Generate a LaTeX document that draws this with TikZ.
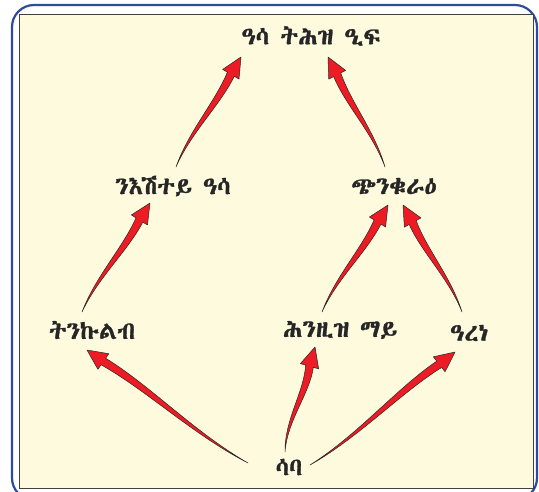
\documentclass[tikz,border=0pt]{standalone}
\usepackage{fontspec}
\usetikzlibrary{calc}
\setfontfamily\ethfont{Abyssinica SIL}[FakeBold=1.2]
\definecolor{cream}{RGB}{254,250,222}
\definecolor{frameblue}{RGB}{46,74,154}
\definecolor{arrred}{RGB}{237,28,36}
\tikzset{
  lbl/.style={inner sep=1pt, font=\ethfont\fontsize{24.5}{26}\selectfont, text=black!85},
  arrowfill/.style={fill=arrred, draw=black!85, line width=0.5pt, line join=round}
}
\newcommand\tarrow[3]{%
  \pgfmathsetmacro\lA{#3+1.4}%
  \pgfmathsetmacro\rA{#3-1.4}%
  \pgfmathsetmacro\lB{-0.6*#3+3}%
  \pgfmathsetmacro\rB{-0.6*#3-3}%
  \path ($(#2)!20pt!(#1)$) coordinate (neckT);
  \filldraw[arrowfill] (#1)
    .. controls ($(#1)!0.35!(neckT)!\lA pt!90:(neckT)$) and ($(#1)!0.7!(neckT)!\lB pt!90:(neckT)$) .. ($(neckT)!4pt!90:(#2)$)
    -- ($(neckT)!9.5pt!90:(#2)$) -- (#2) -- ($(neckT)!9.5pt!-90:(#2)$) -- ($(neckT)!4pt!-90:(#2)$)
    .. controls ($(#1)!0.7!(neckT)!\rB pt!90:(neckT)$) and ($(#1)!0.35!(neckT)!\rA pt!90:(neckT)$) .. (#1) -- cycle;
}
\begin{document}
\begin{tikzpicture}[x=1pt,y=-1pt]
\useasboundingbox (0,0) rectangle (539,491);
\draw[frameblue, line width=2.2pt, rounded corners=22pt] (12,5) rectangle (537,500);
\draw[fill=cream, draw=black!75, line width=0.8pt] (19,14) rectangle (533,488);

\node[lbl] (top) at (311,36) {ዓሳ ትሕዝ ዒፍ};
\node[lbl] (n1) at (173,186) {ንእሽተይ ዓሳ};
\node[lbl] (n2) at (394,186) {ጭንቁራዕ};
\node[lbl] (n3) at (92,330) {ትንኩልብ};
\node[lbl] (n4) at (340,330) {ሕንዚዝ ማይ};
\node[lbl] (n5) at (469,333) {ዓረነ};
\node[lbl] (n6) at (289,467) {ሳባ};

\coordinate (a1s) at (176,167); \coordinate (a1e) at (241,57);
\coordinate (a2s) at (385,167); \coordinate (a2e) at (328,57);
\coordinate (a3s) at (82,312);  \coordinate (a3e) at (150,203);
\coordinate (a4s) at (322,312); \coordinate (a4e) at (388,205);
\coordinate (a5s) at (462,312); \coordinate (a5e) at (403,205);
\coordinate (a6s) at (248,463); \coordinate (a6e) at (87,350);
\coordinate (a7s) at (285,452); \coordinate (a7e) at (315,347);
\coordinate (a8s) at (310,465); \coordinate (a8e) at (455,352);

\tarrow{a1s}{a1e}{6}
\tarrow{a2s}{a2e}{-6}
\tarrow{a3s}{a3e}{6}
\tarrow{a4s}{a4e}{6}
\tarrow{a5s}{a5e}{-6}
\tarrow{a6s}{a6e}{7}
\tarrow{a7s}{a7e}{8}
\tarrow{a8s}{a8e}{-7}
\end{tikzpicture}
\end{document}
